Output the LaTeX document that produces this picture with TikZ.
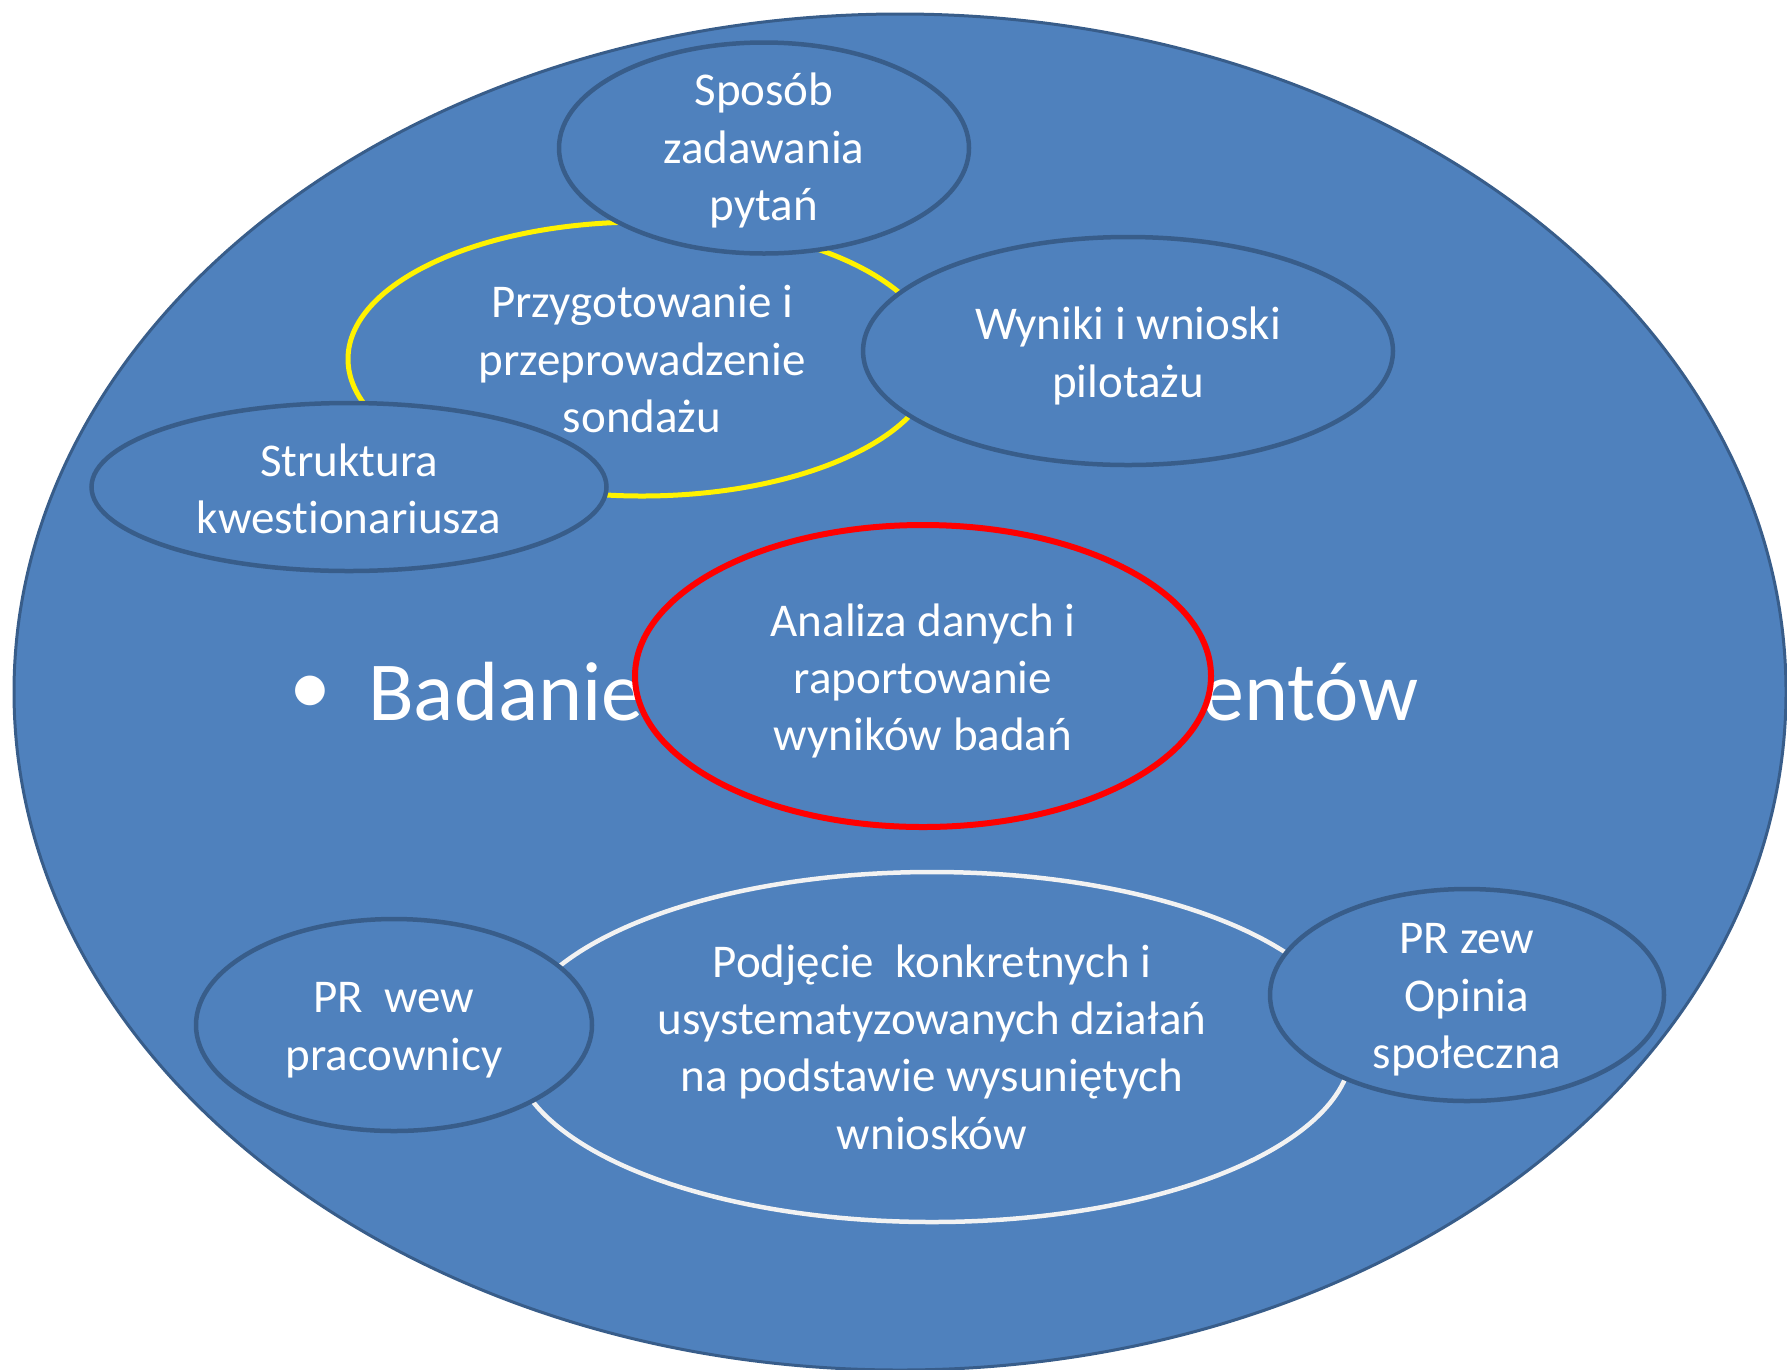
\documentclass[tikz,border=0pt]{standalone}
\usepackage{fontspec}
\setmainfont{Carlito}[Ligatures=NoCommon]
\usetikzlibrary{shapes.geometric}
\definecolor{fillblue}{HTML}{4F81BD}
\definecolor{edgeblue}{HTML}{385D8A}
\definecolor{softwhite}{HTML}{F2F2F2}
\begin{document}
\begin{tikzpicture}[x=1pt,y=-1pt,
  bubble/.style={ellipse, draw=edgeblue, line width=4.5pt, fill=fillblue, inner sep=0pt},
  txt/.style={text=white, align=center, font=\fontsize{47}{57.4}\selectfont, inner sep=0pt, yshift=-5pt},
  big/.style={text=white, font=\fontsize{84}{100}\selectfont, inner sep=0pt}]
\useasboundingbox (0,0) rectangle (1787,1369);
\clip (0,0) rectangle (1787,1369);
\node[ellipse, draw=edgeblue, line width=3pt, fill=fillblue, minimum width=1772pt, minimum height=1356pt, inner sep=0pt] (outer) at (900,692) {};
\node[big] (bullet) at (310,695) {•};
\node[big, anchor=base west] (bad1) at (368,720) {Badanie};
\node[big, anchor=base east] (bad2) at (1419,720) {entów};
% yellow
\node[bubble, draw=yellow, line width=5pt, minimum width=588pt, minimum height=274pt] (prz) at (642,359) {};
\node[txt, yshift=5pt] (prztxt) at (prz) {Przygotowanie i\\przeprowadzenie\\sondażu};
\node[bubble, minimum width=410pt, minimum height=211pt] (spo) at (764,148) {};
\node[txt, yshift=2.5pt] (spotxt) at (spo) {Sposób\\zadawania\\pytań};
\node[bubble, minimum width=530pt, minimum height=228pt] (wyn) at (1128,351) {};
\node[txt] (wyntxt) at (wyn) {Wyniki i wnioski\\pilotażu};
\node[bubble, minimum width=515pt, minimum height=168pt] (str) at (349,487) {};
\node[txt, yshift=3pt] (strtxt) at (str) {Struktura\\kwestionariusza};
% red
\node[bubble, draw=red, line width=6pt, minimum width=576pt, minimum height=302pt] (ana) at (923,676) {};
\node[txt] (anatxt) at (ana) {Analiza danych i\\raportowanie\\wyników badań};
% white
\node[bubble, draw=softwhite, line width=4.5pt, minimum width=840pt, minimum height=350pt] (pod) at (932,1047) {};
\node[txt, yshift=5pt] (podtxt) at (pod) {Podjęcie\ \ konkretnych i\\usystematyzowanych działań\\na podstawie wysuniętych\\wniosków};
\node[bubble, minimum width=396pt, minimum height=212pt] (wew) at (394,1025) {};
\node[txt] (wewtxt) at (wew) {PR\ \ wew\\pracownicy};
\node[bubble, minimum width=394pt, minimum height=212pt] (zew) at (1467,995) {};
\node[txt] (zewtxt) at (zew) {PR zew\\Opinia\\społeczna};
\end{tikzpicture}
\end{document}
